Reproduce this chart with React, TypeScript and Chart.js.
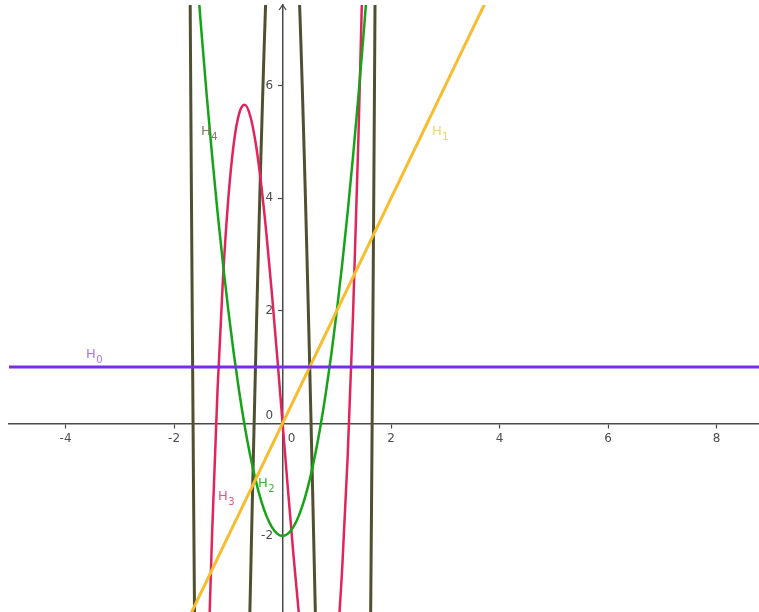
import React, { useEffect, useRef } from 'react';
import { Chart, registerables } from 'chart.js';

Chart.register(...registerables);

// View window (data units)
const X_MIN = -5.043;
const X_MAX = 8.781;
const Y_MIN = -3.352;
const Y_MAX = 7.43;

// Tick labels
const xTickValues = [-4, -2, 2, 4, 6, 8];
const yTickValues = [-2, 2, 4, 6];
const zeroTick = [0];

// H0 = 1
const h0X = [-5.3, 9.0];
const h0Y = [1, 1];

// H1 = 2x
const h1X = [-1.8, 3.8];
const h1Y = [-3.6, 7.6];

// H2 = 4x^2 - 2
const h2X = [-1.6, -1.5, -1.4, -1.3, -1.2, -1.1, -1.0, -0.9, -0.8, -0.7, -0.6, -0.5, -0.4, -0.3, -0.2, -0.1, 0,
  0.1, 0.2, 0.3, 0.4, 0.5, 0.6, 0.7, 0.8, 0.9, 1.0, 1.1, 1.2, 1.3, 1.4, 1.5, 1.6];
const h2Y = [8.24, 7, 5.84, 4.76, 3.76, 2.84, 2, 1.24, 0.56, -0.04, -0.56, -1, -1.36, -1.64, -1.84, -1.96, -2,
  -1.96, -1.84, -1.64, -1.36, -1, -0.56, -0.04, 0.56, 1.24, 2, 2.84, 3.76, 4.76, 5.84, 7, 8.24];

// H3 = 8x^3 - 12x
const h3X = [-1.4, -1.3, -1.2, -1.1, -1.0, -0.9, -0.8, -0.7, -0.6, -0.5, -0.4, -0.3, -0.2, -0.1, 0,
  0.1, 0.2, 0.3, 0.4, 0.5, 0.6, 0.7, 0.8, 0.9, 1.0, 1.1, 1.2, 1.3, 1.4, 1.5];
const h3Y = [-5.152, -1.976, 0.576, 2.552, 4, 4.968, 5.504, 5.656, 5.472, 5, 4.288, 3.384, 2.336, 1.192, 0,
  -1.192, -2.336, -3.384, -4.288, -5, -5.472, -5.656, -5.504, -4.968, -4, -2.552, -0.576, 1.976, 5.152, 9];

// H4 = 16x^4 - 48x^2 + 12
const h4X = [-1.74, -1.72, -1.70, -1.68, -1.66, -1.64, -1.62, -1.60, -1.58, -1.5, -1.22, -1.0, -0.8, -0.7,
  -0.64, -0.62, -0.6, -0.58, -0.56, -0.54, -0.52, -0.5, -0.48, -0.46, -0.44, -0.42, -0.4, -0.38, -0.36, -0.34,
  -0.32, -0.3, -0.28, -0.26, 0,
  0.26, 0.28, 0.3, 0.32, 0.34, 0.36, 0.38, 0.4, 0.42, 0.44, 0.46, 0.48, 0.5, 0.52, 0.54, 0.56, 0.58, 0.6, 0.62,
  0.64, 0.7, 0.8, 1.0, 1.22, 1.5, 1.58, 1.60, 1.62, 1.64, 1.66, 1.68, 1.70, 1.72, 1.74];
const h4Y = [13.34, 10.03, 6.91, 3.98, 1.22, -1.36, -3.77, -6.02, -8.12, -15, -24, -20, -12.17, -7.68,
  -4.98, -4.09, -3.21, -2.34, -1.48, -0.64, 0.19, 1.0, 1.79, 2.56, 3.31, 4.03, 4.73, 5.4, 6.05, 6.67,
  7.25, 7.81, 8.34, 8.83, 12,
  8.83, 8.34, 7.81, 7.25, 6.67, 6.05, 5.4, 4.73, 4.03, 3.31, 2.56, 1.79, 1.0, 0.19, -0.64, -1.48, -2.34, -3.21, -4.09,
  -4.98, -7.68, -12.17, -20, -24, -15, -8.12, -6.02, -3.77, -1.36, 1.22, 3.98, 6.91, 10.03, 13.34];

// Curve labels
const labelSubs = ['0', '1', '2', '3', '4'];
const labelX = [-3.624, 2.754, -0.453, -1.191, -1.503];
const labelY = [1.16, 5.121, -1.131, -1.362, 5.121];
const labelColors = ['#a878ea', '#f1d27c', '#3fae3f', '#e2587e', '#7f7f62'];

const pts = (xs: number[], ys: number[]) => xs.map((x, i) => ({ x, y: ys[i] }));

const FONT = "'DejaVu Sans', sans-serif";
const AXIS_COLOR = '#4a4a4a';
// trailing gap so right-aligned y labels sit left of the tick marks
const Y_GAP = '\u2009\u2009\u2009\u2009';

const labelsPlugin = {
  id: 'curveLabels',
  afterDatasetsDraw(chart: any) {
    const ctx = chart.ctx;
    const xs = chart.scales.x;
    const ys = chart.scales.y;
    ctx.save();
    // y-axis arrow head
    const ax = xs.getPixelForValue(0);
    const top = chart.chartArea.top;
    ctx.strokeStyle = AXIS_COLOR;
    ctx.lineWidth = 1.3;
    ctx.beginPath();
    ctx.moveTo(ax - 3.5, top + 5);
    ctx.lineTo(ax, top);
    ctx.lineTo(ax + 3.5, top + 5);
    ctx.stroke();
    ctx.textBaseline = 'alphabetic';
    ctx.textAlign = 'left';
    for (let i = 0; i < labelSubs.length; i++) {
      const px = xs.getPixelForValue(labelX[i]);
      const py = ys.getPixelForValue(labelY[i]);
      ctx.fillStyle = labelColors[i];
      ctx.font = `13px ${FONT}`;
      ctx.fillText('H', px, py);
      const w = ctx.measureText('H').width;
      ctx.font = `10px ${FONT}`;
      ctx.fillText(labelSubs[i], px + w + 0.5, py + 5);
    }
    ctx.restore();
  },
};

const fitX = (s: any) => { s.height = 0; s.paddingLeft = 0; s.paddingRight = 0; s.paddingTop = 0; s.paddingBottom = 0; };
const fitY = (s: any) => { s.width = 0; s.paddingLeft = 0; s.paddingRight = 0; s.paddingTop = 0; s.paddingBottom = 0; };

export default function App() {
  const ref = useRef<HTMLCanvasElement | null>(null);
  useEffect(() => {
    if (!ref.current) return;
    const tickFont = { family: FONT, size: 12 };
    const chart = new Chart(ref.current, {
      type: 'scatter',
      data: {
        datasets: [
          { label: 'H0', data: pts(h0X, h0Y), borderColor: '#7a2de6', borderWidth: 3, showLine: true, pointRadius: 0, tension: 0 },
          { label: 'H1', data: pts(h1X, h1Y), borderColor: '#f7bd2f', borderWidth: 3, showLine: true, pointRadius: 0, tension: 0 },
          { label: 'H2', data: pts(h2X, h2Y), borderColor: '#17a317', borderWidth: 2.5, showLine: true, pointRadius: 0, cubicInterpolationMode: 'monotone' },
          { label: 'H3', data: pts(h3X, h3Y), borderColor: '#e0245c', borderWidth: 2.5, showLine: true, pointRadius: 0, cubicInterpolationMode: 'monotone' },
          { label: 'H4', data: pts(h4X, h4Y), borderColor: '#505030', borderWidth: 3, showLine: true, pointRadius: 0, tension: 0 },
        ],
      } as any,
      options: {
        animation: false,
        responsive: false,
        maintainAspectRatio: false,
        layout: { padding: { left: 9, top: 5, right: 0, bottom: 0 } },
        plugins: { legend: { display: false }, tooltip: { enabled: false } },
        scales: {
          x: {
            type: 'linear',
            min: X_MIN,
            max: X_MAX,
            position: { y: 0 } as any,
            afterFit: fitX,
            afterBuildTicks: (s: any) => { s.ticks = xTickValues.map((v) => ({ value: v })); },
            grid: { display: true, drawOnChartArea: false, drawTicks: true, tickLength: 4, color: AXIS_COLOR, tickWidth: 1.2 },
            border: { display: true, color: AXIS_COLOR, width: 1.5 },
            ticks: { padding: 4, font: tickFont, color: '#4d4d4d', maxRotation: 0, autoSkip: false, callback: (v: any) => String(v) },
          },
          x2: {
            type: 'linear',
            axis: 'x',
            min: X_MIN,
            max: X_MAX,
            position: { y: 0 } as any,
            afterFit: fitX,
            afterBuildTicks: (s: any) => { s.ticks = zeroTick.map((v) => ({ value: v })); },
            grid: { display: false, drawTicks: false, drawOnChartArea: false },
            border: { display: false },
            ticks: { padding: 8, labelOffset: 9, font: tickFont, color: '#4d4d4d', maxRotation: 0, autoSkip: false, callback: (v: any) => String(v) },
          },
          y: {
            type: 'linear',
            min: Y_MIN,
            max: Y_MAX,
            position: { x: 0 } as any,
            afterFit: fitY,
            afterBuildTicks: (s: any) => { s.ticks = yTickValues.map((v) => ({ value: v })); },
            grid: { display: true, drawOnChartArea: false, drawTicks: true, tickLength: 4, color: AXIS_COLOR, tickWidth: 1.2 },
            border: { display: true, color: AXIS_COLOR, width: 1.5 },
            ticks: { padding: 6, font: tickFont, color: '#4d4d4d', autoSkip: false, callback: (v: any) => String(v) + Y_GAP },
          },
          y2: {
            type: 'linear',
            axis: 'y',
            min: Y_MIN,
            max: Y_MAX,
            position: { x: 0 } as any,
            afterFit: fitY,
            afterBuildTicks: (s: any) => { s.ticks = zeroTick.map((v) => ({ value: v })); },
            grid: { display: false, drawTicks: false, drawOnChartArea: false },
            border: { display: false },
            ticks: { padding: 10, labelOffset: -7.5, font: tickFont, color: '#4d4d4d', autoSkip: false, callback: (v: any) => String(v) + Y_GAP },
          },
        },
      } as any,
      plugins: [labelsPlugin],
    });
    return () => chart.destroy();
  }, []);
  return (
    <div style={{ position: 'fixed', left: 0, top: 0, width: 759, height: 612, background: '#fff' }}>
      <canvas ref={ref} width={759} height={612} style={{ display: 'block', width: 759, height: 612 }} />
    </div>
  );
}
